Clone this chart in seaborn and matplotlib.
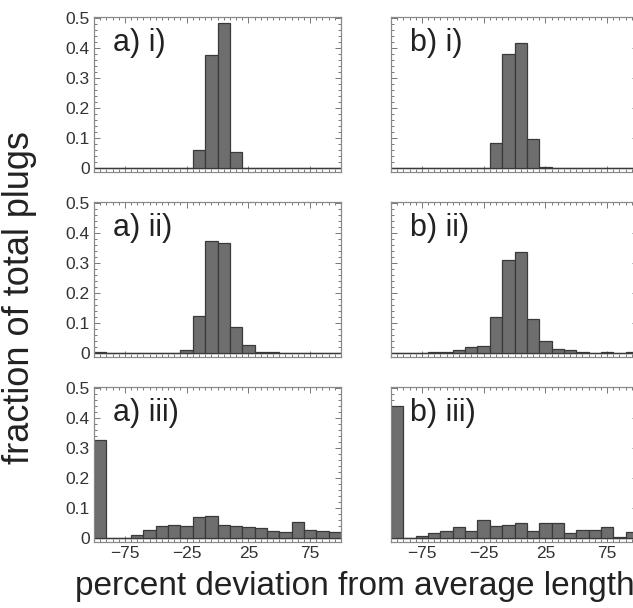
import numpy as np
import matplotlib
matplotlib.use('Agg')
import matplotlib.pyplot as plt
from matplotlib.ticker import MultipleLocator
import seaborn as sns

# bin edges (percent deviation) and bin centres
bin_edges = [-100, -90, -80, -70, -60, -50, -40, -30, -20, -10, 0,
             10, 20, 30, 40, 50, 60, 70, 80, 90, 100]
bin_centers = [-95, -85, -75, -65, -55, -45, -35, -25, -15, -5,
               5, 15, 25, 35, 45, 55, 65, 75, 85, 95]

# fraction of total plugs in each bin
a_i = [0, 0, 0, 0, 0, 0, 0, 0, 0.060, 0.378, 0.486, 0.056, 0, 0, 0, 0, 0, 0, 0, 0]
b_i = [0, 0, 0, 0, 0, 0, 0, 0, 0.086, 0.383, 0.419, 0.098, 0.005, 0, 0, 0, 0, 0, 0, 0]
a_ii = [0.005, 0, 0, 0, 0, 0, 0, 0.011, 0.125, 0.376, 0.367, 0.089, 0.028, 0.004,
        0.004, 0, 0, 0, 0, 0]
b_ii = [0, 0, 0, 0.006, 0.006, 0.011, 0.021, 0.024, 0.120, 0.311, 0.339, 0.114,
        0.043, 0.016, 0.011, 0.006, 0.002, 0.006, 0.002, 0.006]
a_iii = [0.327, 0.001, 0.003, 0.011, 0.029, 0.042, 0.045, 0.042, 0.071, 0.074,
         0.045, 0.042, 0.037, 0.034, 0.026, 0.020, 0.055, 0.029, 0.026, 0.021]
b_iii = [0.441, 0, 0.007, 0.019, 0.025, 0.037, 0.024, 0.061, 0.043, 0.044,
         0.051, 0.024, 0.051, 0.051, 0.017, 0.028, 0.028, 0.038, 0.006, 0.023]

panels = [
    ('a) i)', a_i), ('b) i)', b_i),
    ('a) ii)', a_ii), ('b) ii)', b_ii),
    ('a) iii)', a_iii), ('b) iii)', b_iii),
]
x_ticks = [-75, -25, 25, 75]
y_ticks = [0, 0.1, 0.2, 0.3, 0.4, 0.5]
y_ticklabels = ['0', '0.1', '0.2', '0.3', '0.4', '0.5']

sns.set_style('white')
plt.rcParams['font.family'] = ['Liberation Sans', 'DejaVu Sans']

W, H = 633, 608
fig = plt.figure(figsize=(W / 100, H / 100), dpi=100)

col_left = [94, 391]
row_top = [17, 202, 387]
ax_w, ax_h = 247, 155

for i, (label, vals) in enumerate(panels):
    r, c = divmod(i, 2)
    ax = fig.add_axes([col_left[c] / W, 1 - (row_top[r] + ax_h) / H, ax_w / W, ax_h / H])
    sns.histplot(x=bin_centers, weights=vals, bins=bin_edges, ax=ax,
                 color='#6e6e6e', edgecolor='#3a3a3a', linewidth=0.9, alpha=1)
    ax.axhline(0, color='#555555', lw=1.0, zorder=0)
    ax.set_xlim(-100, 100)
    ax.set_ylim(-0.012, 0.505)
    ax.set_xlabel('')
    ax.set_ylabel('')
    for sp in ax.spines.values():
        sp.set_color('#8a8a8a')
        sp.set_linewidth(0.9)
    ax.set_xticks(x_ticks)
    ax.xaxis.set_minor_locator(MultipleLocator(5))
    ax.set_yticks(y_ticks)
    ax.yaxis.set_minor_locator(MultipleLocator(0.02))
    ax.tick_params(which='both', direction='in', top=True, right=True,
                   bottom=True, left=True, color='#777777', width=0.7)
    ax.tick_params(which='major', length=4)
    ax.tick_params(which='minor', length=2)
    ax.tick_params(labelsize=12.5, labelcolor='#333333', pad=3)
    if c == 0:
        ax.set_yticklabels(y_ticklabels)
    else:
        ax.set_yticklabels([])
    if r < 2:
        ax.set_xticklabels([])
    ax.text(0.075, 0.93, label, transform=ax.transAxes, ha='left', va='top',
            fontsize=22, color='#222222')

fig.text(20 / W, 1 - 298 / H, 'fraction of total plugs', rotation=90,
         ha='center', va='center', fontsize=26, color='#222222')
fig.text(75 / W, 1 - 587 / H, 'percent deviation from average length',
         ha='left', va='center', fontsize=24, color='#222222')

plt.savefig('out.png', dpi=100)
